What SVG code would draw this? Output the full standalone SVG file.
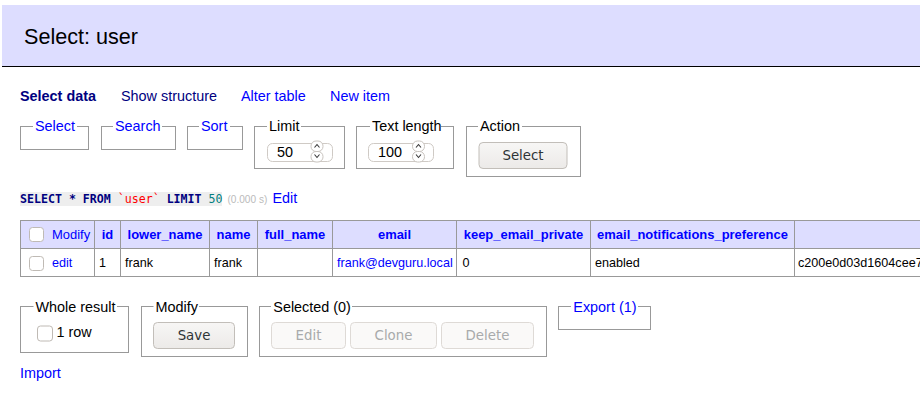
<svg xmlns="http://www.w3.org/2000/svg" width="920" height="407" viewBox="0 0 920 407">
<defs>
<linearGradient id="btn" x1="0" y1="0" x2="0" y2="1">
<stop offset="0" stop-color="#f7f6f5"/>
<stop offset="1" stop-color="#eceae8"/>
</linearGradient>
<style>
text{font-family:"Liberation Sans",Arial,sans-serif;font-size:14.4px;fill:#000}
.link{fill:#00f}
.navy{fill:#000080}
.fs{fill:none;stroke:#999;stroke-width:1}
.gap{fill:#fff}
.cb{fill:#fff;stroke:#bfbab4;stroke-width:1}
.tb{font-size:12.6px}
.th{font-size:12.96px;font-weight:bold;fill:#00f;text-anchor:middle}
.grid{stroke:#999;stroke-width:1;fill:none}
.btn{fill:url(#btn);stroke:#c2beb9;stroke-width:1}
.btnd{fill:#faf9f8;stroke:#dedad6;stroke-width:1}
.bt{font-family:"DejaVu Sans",sans-serif;font-size:13.33px;text-anchor:middle;fill:#2e3436}
.btd{font-family:"DejaVu Sans",sans-serif;font-size:13.33px;text-anchor:middle;fill:#a8aaab}
.inp{fill:#fff;stroke:#cfcac5;stroke-width:1}
.spin{fill:#fff;stroke:#c9c4bf;stroke-width:1}
.chev{fill:none;stroke:#3a3a3a;stroke-width:1.1}
.mono{font-family:"DejaVu Sans Mono",monospace;font-size:11.6px}
.kw{font-weight:bold;fill:#000080}
</style>
</defs>
<rect width="920" height="407" fill="#fff"/>

<g id="header">
<rect x="2" y="5" width="918" height="61" fill="#ddf"/>
<line x1="2" y1="66.5" x2="920" y2="66.5" stroke="#000" stroke-width="1"/>
<text x="24" y="43.5" style="font-size:21.6px">Select: user</text>
</g>

<g id="nav">
<text x="20" y="101" class="navy" style="font-weight:bold">Select data</text>
<text x="121" y="101" class="navy">Show structure</text>
<text x="241" y="101" class="link">Alter table</text>
<text x="330" y="101" class="link">New item</text>
</g>

<g id="fs-select">
<rect class="fs" x="20.5" y="126.5" width="68" height="23"/>
<rect class="gap" x="33" y="120" width="44" height="10"/>
<text x="35" y="131" class="link">Select</text>
</g>
<g id="fs-search">
<rect class="fs" x="101.5" y="126.5" width="74" height="23"/>
<rect class="gap" x="113" y="120" width="49" height="10"/>
<text x="115" y="131" class="link">Search</text>
</g>
<g id="fs-sort">
<rect class="fs" x="187.5" y="126.5" width="55" height="23"/>
<rect class="gap" x="199" y="120" width="31" height="10"/>
<text x="201" y="131" class="link">Sort</text>
</g>
<g id="fs-limit">
<rect class="fs" x="254.5" y="126.5" width="90" height="42"/>
<rect class="gap" x="267" y="120" width="34" height="10"/>
<text x="269" y="131">Limit</text>
<rect class="inp" x="267.5" y="143.5" width="65" height="18" rx="5"/>
<text x="277" y="157">50</text>
<rect class="spin" x="311" y="141" width="12" height="10.5" rx="5"/>
<rect class="spin" x="311" y="151.5" width="12" height="10.5" rx="5"/>
<path class="chev" d="M314.5 147.5 L317 144.5 L319.5 147.5"/>
<path class="chev" d="M314.5 154.5 L317 157.5 L319.5 154.5"/>
</g>
<g id="fs-textlength">
<rect class="fs" x="356.5" y="126.5" width="97" height="42"/>
<rect class="gap" x="370" y="120" width="71" height="10"/>
<text x="372" y="131">Text length</text>
<rect class="inp" x="368.5" y="143.5" width="65" height="18" rx="5"/>
<text x="378" y="157">100</text>
<rect class="spin" x="412.5" y="141" width="12" height="10.5" rx="5"/>
<rect class="spin" x="412.5" y="151.5" width="12" height="10.5" rx="5"/>
<path class="chev" d="M416 147.5 L418.5 144.5 L421 147.5"/>
<path class="chev" d="M416 154.5 L418.5 157.5 L421 154.5"/>
</g>
<g id="fs-action">
<rect class="fs" x="466.5" y="126.5" width="114" height="50"/>
<rect class="gap" x="478" y="120" width="44" height="10"/>
<text x="480" y="131">Action</text>
<rect class="btn" x="479" y="142.5" width="88" height="26" rx="4"/>
<text x="523" y="160" class="bt">Select</text>
</g>

<g id="query">
<rect x="20" y="192" width="202" height="14" fill="#eee"/>
<text x="20" y="202.5" class="mono"><tspan class="kw">SELECT</tspan> <tspan class="kw">*</tspan> <tspan class="kw">FROM</tspan> <tspan fill="#f00">`user`</tspan> <tspan class="kw">LIMIT</tspan> <tspan fill="#007f7f">50</tspan></text>
<text x="227.5" y="202.5" style="font-size:10.08px;fill:#bbb">(0.000 s)</text>
<text x="272.5" y="202.5" class="link">Edit</text>
</g>

<g id="table">
<rect x="20" y="220" width="900" height="28" fill="#ddf"/>
<g class="grid">
<line x1="20" y1="220.5" x2="920" y2="220.5"/>
<line x1="20" y1="248.5" x2="920" y2="248.5"/>
<line x1="20" y1="276.5" x2="920" y2="276.5"/>
<line x1="20.5" y1="220" x2="20.5" y2="277"/>
<line x1="94.5" y1="220" x2="94.5" y2="277"/>
<line x1="120.5" y1="220" x2="120.5" y2="277"/>
<line x1="209.5" y1="220" x2="209.5" y2="277"/>
<line x1="257.5" y1="220" x2="257.5" y2="277"/>
<line x1="332.5" y1="220" x2="332.5" y2="277"/>
<line x1="456.5" y1="220" x2="456.5" y2="277"/>
<line x1="590.5" y1="220" x2="590.5" y2="277"/>
<line x1="794.5" y1="220" x2="794.5" y2="277"/>
</g>
<rect class="cb" x="29.5" y="227.5" width="14" height="14" rx="3"/>
<text x="52" y="238.5" class="link" style="font-size:12.96px">Modify</text>
<text x="107.5" y="238.5" class="th">id</text>
<text x="165" y="238.5" class="th">lower_name</text>
<text x="233.5" y="238.5" class="th">name</text>
<text x="295" y="238.5" class="th">full_name</text>
<text x="394.5" y="238.5" class="th">email</text>
<text x="523.5" y="238.5" class="th">keep_email_private</text>
<text x="692.5" y="238.5" class="th">email_notifications_preference</text>
<rect class="cb" x="29.5" y="256.5" width="14" height="14" rx="3"/>
<text x="52" y="266.5" class="tb link">edit</text>
<text x="99" y="266.5" class="tb">1</text>
<text x="125" y="266.5" class="tb">frank</text>
<text x="214" y="266.5" class="tb">frank</text>
<text x="337" y="266.5" class="tb link">frank@devguru.local</text>
<text x="462.5" y="266.5" class="tb">0</text>
<text x="595" y="266.5" class="tb">enabled</text>
<text x="798" y="266.5" class="tb">c200e0d03d1604cee7</text>
</g>

<g id="fs-whole">
<rect class="fs" x="20.5" y="306.5" width="108" height="46"/>
<rect class="gap" x="33.5" y="300" width="83.5" height="10"/>
<text x="35.5" y="311.5">Whole result</text>
<rect class="cb" x="37.5" y="326" width="15" height="15" rx="3"/>
<text x="56.5" y="337">1 row</text>
</g>
<g id="fs-modify">
<rect class="fs" x="141.5" y="306.5" width="106" height="50"/>
<rect class="gap" x="153.5" y="300" width="45.5" height="10"/>
<text x="155.5" y="311.5">Modify</text>
<rect class="btn" x="153.5" y="322.5" width="81" height="26" rx="4"/>
<text x="194" y="340" class="bt">Save</text>
</g>
<g id="fs-selected">
<rect class="fs" x="259.5" y="306.5" width="287" height="50"/>
<rect class="gap" x="271" y="300" width="81" height="10"/>
<text x="273.3" y="311.5">Selected (0)</text>
<rect class="btnd" x="271.5" y="322.5" width="74" height="26" rx="4"/>
<text x="308.5" y="340" class="btd">Edit</text>
<rect class="btnd" x="350.5" y="322.5" width="86" height="26" rx="4"/>
<text x="393.5" y="340" class="btd">Clone</text>
<rect class="btnd" x="441.5" y="322.5" width="92" height="26" rx="4"/>
<text x="487.5" y="340" class="btd">Delete</text>
</g>
<g id="fs-export">
<rect class="fs" x="558.5" y="306.5" width="92" height="23"/>
<rect class="gap" x="571" y="300" width="67" height="10"/>
<text x="573.3" y="311.5" class="link">Export (1)</text>
</g>

<g id="import">
<text x="20" y="378" class="link">Import</text>
</g>
<g id="connectors"/>
</svg>
